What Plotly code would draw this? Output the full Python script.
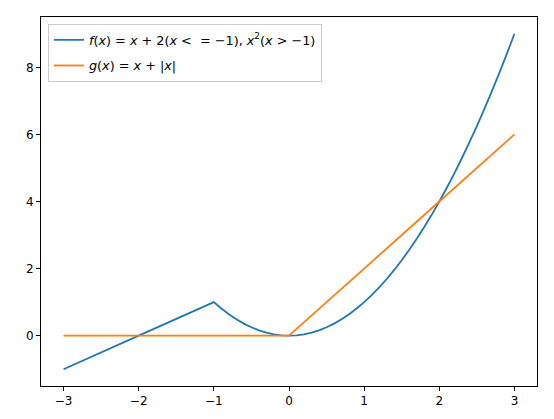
import plotly.graph_objects as go

# f(x): line segment then parabola
f_x = [-3, -2, -1, -0.9, -0.8, -0.7, -0.6, -0.5, -0.4, -0.3, -0.2, -0.1, 0,
       0.1, 0.2, 0.3, 0.4, 0.5, 0.6, 0.7, 0.8, 0.9, 1,
       1.1, 1.2, 1.3, 1.4, 1.5, 1.6, 1.7, 1.8, 1.9, 2,
       2.1, 2.2, 2.3, 2.4, 2.5, 2.6, 2.7, 2.8, 2.9, 3]
f_y = [-1, 0, 1, 0.81, 0.64, 0.49, 0.36, 0.25, 0.16, 0.09, 0.04, 0.01, 0,
       0.01, 0.04, 0.09, 0.16, 0.25, 0.36, 0.49, 0.64, 0.81, 1,
       1.21, 1.44, 1.69, 1.96, 2.25, 2.56, 2.89, 3.24, 3.61, 4,
       4.41, 4.84, 5.29, 5.76, 6.25, 6.76, 7.29, 7.84, 8.41, 9]

g_x = [-3, -2, -1, 0, 1, 2, 3]
g_y = [0, 0, 0, 0, 2, 4, 6]

x_ticks = [-3, -2, -1, 0, 1, 2, 3]
y_ticks = [0, 2, 4, 6, 8]

f_name = "<i>f</i>(<i>x</i>) = <i>x</i> + 2(<i>x</i> &lt;  = −1), <i>x</i><sup>2</sup>(<i>x</i> &gt; −1)"
g_name = "<i>g</i>(<i>x</i>) = <i>x</i> + |<i>x</i>|"

fig = go.Figure()
fig.add_trace(go.Scatter(x=f_x, y=f_y, mode="lines", name=f_name, legendgroup="f",
                         line=dict(color="#1f77b4", width=1.8, simplify=False)))
fig.add_trace(go.Scatter(x=g_x, y=g_y, mode="lines", name=g_name, legendgroup="g",
                         line=dict(color="#ff7f0e", width=1.8, simplify=False)))

axis_common = dict(showgrid=False, zeroline=False, showline=True, linecolor="black",
                   linewidth=1, mirror=True, ticks="outside", ticklen=4,
                   tickcolor="black", tickfont=dict(size=12, color="black"),
                   automargin=False)

fig.update_layout(
    width=546, height=411,
    margin=dict(l=33, r=17, t=9, b=33),
    paper_bgcolor="white", plot_bgcolor="white",
    font=dict(family="DejaVu Sans", size=12, color="black"),
    xaxis=dict(range=[-3.3, 3.3], tickvals=x_ticks, **axis_common),
    yaxis=dict(range=[-1.5, 9.5], tickvals=y_ticks, **axis_common),
    legend=dict(x=0.014, y=0.981, xanchor="left", yanchor="top",
                bgcolor="rgba(255,255,255,0.8)", bordercolor="#cccccc",
                borderwidth=1, font=dict(size=12.8), tracegroupgap=6),
    showlegend=True,
)

fig.write_html("out.html")
